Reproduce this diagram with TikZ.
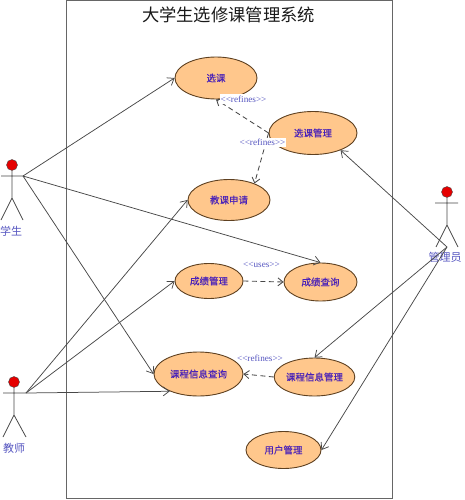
\documentclass[tikz,border=0pt]{standalone}
\usepackage{fontspec}
\newfontfamily\cjk{Noto Sans CJK SC}
\newfontfamily\cjkb[FakeBold=0.2]{Noto Sans CJK SC}
\setmainfont{Liberation Serif}
\usetikzlibrary{shapes.geometric,arrows.meta}
\definecolor{ucfill}{HTML}{FFC78C}
\definecolor{ucedge}{HTML}{5E4020}
\definecolor{inkblue}{HTML}{4A22B8}
\definecolor{lblue}{HTML}{5555C0}
\definecolor{wire}{HTML}{484848}
\tikzset{
  x=1pt,y=-1pt,
  uc/.style args={#1/#2}{ellipse,draw=ucedge,fill=ucfill,line width=0.9pt,minimum width=#1pt,minimum height=#2pt,inner sep=0pt,font=\cjkb\fontsize{9.5}{11}\selectfont,text=inkblue},
  head/.style={circle,draw=black!70,fill=red!90!black,line width=0.4pt,minimum size=11pt,inner sep=0pt},
  stick/.style={draw=wire,line width=0.8pt},
  who/.style={font=\cjk\fontsize{11}{13}\selectfont,text=lblue,inner sep=0pt},
  assoc/.style={draw=wire,line width=0.75pt,-{Straight Barb[length=6pt,width=9pt]}},
  dep/.style={draw=wire,line width=0.85pt,dash pattern=on 5pt off 3.5pt,-{Straight Barb[length=5pt,width=8pt]}},
  stereo/.style={font=\fontsize{9.2}{11}\selectfont,text=lblue,inner sep=0.5pt},
  stereofill/.style={stereo,fill=white,inner xsep=0.5pt,inner ysep=1.5pt},
}
\begin{document}
\begin{tikzpicture}
\useasboundingbox (0,0) rectangle (464,500);
\node[draw=black!60,line width=0.85pt,minimum width=326pt,minimum height=498pt,inner sep=0pt,outer sep=0pt,anchor=north west] (system) at (66,0.6) {};
\node[font=\cjk\fontsize{17.3}{20}\selectfont,text=black!90] (title) at (228.5,15) {大学生选修课管理系统};

\node[uc=82/42] (xk) at (216,78) {选课};
\node[uc=88/43] (xkgl) at (313,133) {选课管理};
\node[uc=82/41] (jksq) at (229,200) {教课申请};
\node[uc=68/35] (cjgl) at (209,281) {成绩管理};
\node[uc=73/38] (cjcx) at (320.5,282) {成绩查询};
\node[uc=89/44] (kccx) at (198.5,374) {课程信息查询};
\node[uc=75/38] (kcgl) at (314.5,377) {课程信息管理};
\node[uc=75/37] (yhgl) at (283.5,450) {用户管理};

% student
\node[head] (h1) at (12,165) {};
\coordinate (s1) at (23,176);
\coordinate (s1l) at (1,176);
\coordinate (s1b) at (12,198);
\coordinate (s1f1) at (1,220);
\coordinate (s1f2) at (23,220);
\draw[stick] (h1) -- (s1b) -- (s1f1) (s1b) -- (s1f2) (s1l) -- (s1);
\node[who] (n1) at (11,231) {学生};
% teacher
\node[head] (h2) at (14,382) {};
\coordinate (s2) at (26,393);
\coordinate (s2l) at (3,393);
\coordinate (s2b) at (14,415);
\coordinate (s2f1) at (3,437);
\coordinate (s2f2) at (26,437);
\draw[stick] (h2) -- (s2b) -- (s2f1) (s2b) -- (s2f2) (s2l) -- (s2);
\node[who] (n2) at (14,448) {教师};
% manager
\node[head] (h3) at (447,192) {};
\coordinate (s3l) at (435,203);
\coordinate (s3r) at (458,203);
\coordinate (s3b) at (447,225);
\coordinate (s3f1) at (436,247);
\coordinate (s3f2) at (458,247);
\draw[stick] (h3) -- (s3b) -- (s3f1) (s3b) -- (s3f2) (s3l) -- (s3r);
\node[who] (n3) at (445,257) {管理员};
\coordinate (s3) at (447,247);

\draw[assoc] (s1) -- (xk.west);
\draw[assoc] (s1) -- (cjcx.north);
\draw[assoc] (s1) -- (kccx.west);
\draw[assoc] (s2) -- (jksq.west);
\draw[assoc] (s2) -- (cjgl.west);
\draw[assoc] (s2) -- (kccx.211);
\draw[assoc] (s3) -- (xkgl.-32);
\draw[assoc] (s3) -- (kcgl.north);
\draw[assoc] (s3) -- (yhgl.east);

\draw[dep] (xkgl.west) -- (xk.south);
\draw[dep] (xkgl.west) -- (jksq.33);
\draw[dep] (cjgl.east) -- (cjcx.west);
\draw[dep] (kcgl.west) -- (kccx.east);

\node[stereofill] (r1) at (243.5,99) {<{}<refines>{}>};
\node[stereofill] (r2) at (262.5,142.5) {<{}<refines>{}>};
\node[stereo] (u1) at (261.5,265) {<{}<uses>{}>};
\node[stereo] (r3) at (260,358) {<{}<refines>{}>};
\end{tikzpicture}
\end{document}
